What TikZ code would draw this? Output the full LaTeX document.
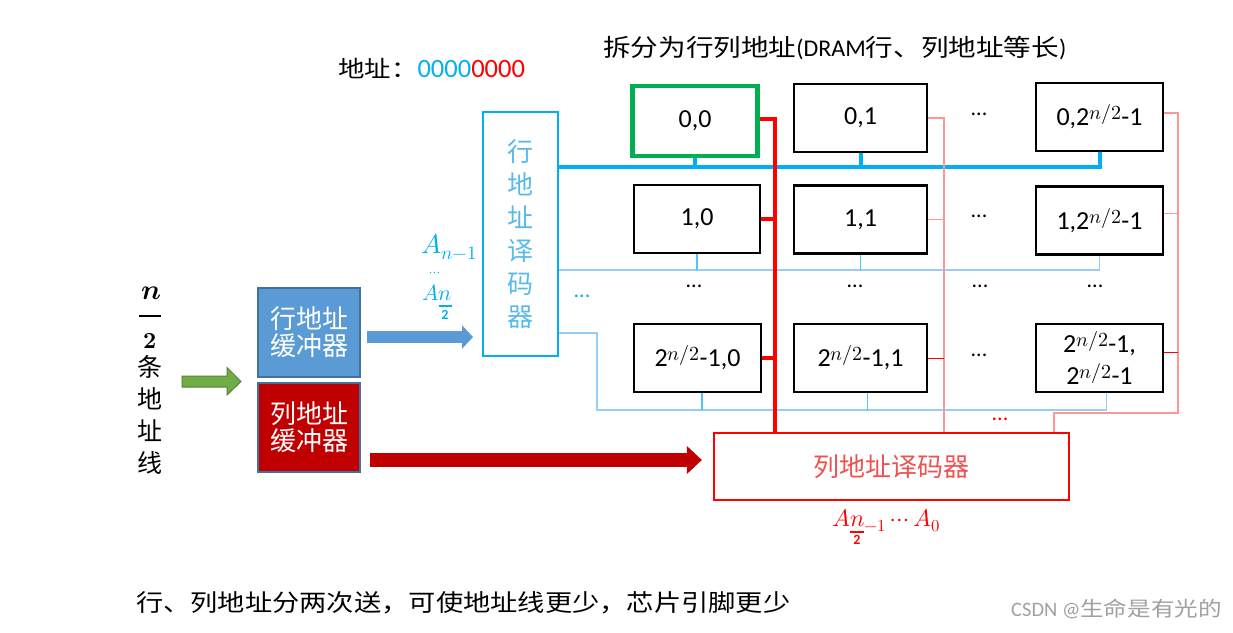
\documentclass[tikz,border=0pt]{standalone}
\usepackage{fontspec}
\usepackage{unicode-math}
\setmainfont{Carlito}
\setmathfont{Latin Modern Math}
\newfontfamily\cjk{Noto Sans CJK SC}
\newfontfamily\cjkw{Noto Sans CJK SC}[FakeStretch=1.15]
\newcommand{\halfexp}{\raisebox{6pt}{\fontsize{20}{20}\selectfont$n/2$}}
\usetikzlibrary{arrows.meta}
\definecolor{sky}{RGB}{0,176,240}
\definecolor{skytext}{RGB}{90,185,235}
\definecolor{lightsky}{RGB}{150,205,242}
\definecolor{pinkline}{RGB}{255,150,150}
\definecolor{pureRed}{RGB}{255,0,0}
\definecolor{darkRed}{RGB}{192,0,0}
\definecolor{cellGreen}{RGB}{0,176,80}
\definecolor{bufBlue}{RGB}{91,155,213}
\definecolor{bufEdge}{RGB}{65,113,156}
\definecolor{arrGreen}{RGB}{112,173,71}
\definecolor{arrGreenEdge}{RGB}{84,130,53}
\definecolor{decText}{RGB}{240,80,80}
\definecolor{wmgray}{RGB}{160,160,160}
\begin{document}
\begin{tikzpicture}[x=1pt,y=-1pt,
  cell/.style={draw=black, line width=2.2pt, minimum width=127pt, minimum height=68pt,
    inner sep=0pt, font=\fontsize{26}{32}\selectfont, align=center},
  buf/.style={draw=bufEdge, line width=1.5pt, minimum width=102pt, minimum height=89pt,
    inner sep=0pt, text=white, font=\cjk\fontsize{26}{27}\selectfont, align=center},
  dotsb/.style={font=\fontsize{22}{22}\selectfont, inner sep=0pt},
  thickblue/.style={sky, line width=4pt, line join=miter},
  thinblue/.style={lightsky, line width=1.5pt},
  stubblue/.style={sky!70, line width=1.2pt},
  thickred/.style={pureRed, line width=3.5pt, line join=miter},
  thinpink/.style={pinkline, line width=1.3pt},
  thinred/.style={pureRed, line width=1pt}]
\useasboundingbox (0,0) rectangle (1233,632);

% memory cells
\node[cell, draw=cellGreen, line width=4.5pt, minimum width=125pt, minimum height=70pt] (c00) at (695,121) {0,0};
\node[cell, minimum width=133pt] (c01) at (860.5,118) {0,1};
\node[cell] (c0L) at (1099.5,117) {0,2\halfexp-1};
\node[cell, minimum width=126pt] (c10) at (697,219) {1,0};
\node[cell, minimum width=133pt] (c11) at (860.5,219.5) {1,1};
\node[cell] (c1L) at (1099.5,220.5) {1,2\halfexp-1};
\node[cell] (cL0) at (697.5,358) {2\halfexp-1,0};
\node[cell, minimum width=133pt] (cL1) at (860.5,358) {2\halfexp-1,1};
\node[cell] (cLL) at (1099.5,358) {2\halfexp-1,\\2\halfexp-1};

% decoders
\node[draw=sky, line width=2pt, minimum width=75pt, minimum height=244pt, inner sep=0pt,
  text=skytext, font=\cjk\fontsize{26}{33}\selectfont, align=center] (rdec) at (520.5,234) {行\\地\\址\\译\\码\\器};
\node[draw=pureRed, line width=2.2pt, minimum width=355pt, minimum height=67pt, inner sep=0pt,
  text=decText, font=\cjk\fontsize{26}{30}\selectfont] (cdec) at (891.5,466.5) {列地址译码器};

% buffers
\node[buf, fill=bufBlue] (rbuf) at (309,332.5) {行地址\\缓冲器};
\node[buf, fill=darkRed] (cbuf) at (309,427.5) {列地址\\缓冲器};

% row word lines
\coordinate (w0) at (0,167);
\coordinate (w1) at (0,270);
\coordinate (wL) at (597,333);
\coordinate (wL2) at (597,410);
\draw[thickblue] (rdec.east |- w0) -- (c0L.south |- w0) -- (c0L.south);
\draw[thickblue] (c00.south) -- (c00.south |- w0);
\draw[thickblue] (c01.south) -- (c01.south |- w0);
\draw[thinblue] (rdec.east |- w1) -- (c1L.south |- w1) -- (c1L.south);
\draw[stubblue] (c10.south) -- (c10.south |- w1);
\draw[stubblue] (c11.south) -- (c11.south |- w1);
\coordinate (sL0) at ([xshift=4.5pt]cL0.south);
\coordinate (sL1) at ([xshift=7pt]cL1.south);
\coordinate (sLL) at ([xshift=7pt]cLL.south);
\draw[thinblue] (rdec.east |- wL) -- (wL) -- (wL2) -- (sLL |- wL2) -- (sLL);
\draw[stubblue] (sL0) -- (sL0 |- wL2);
\draw[stubblue] (sL1) -- (sL1 |- wL2);

% column lines
\coordinate (r1) at (944,0);
\coordinate (r2) at (1178,0);
\coordinate (r2b) at (1054,413);
\coordinate (e0L) at ([yshift=4pt]c0L.east);
\coordinate (e1L) at ([yshift=7pt]c1L.east);
\coordinate (eLL) at ([yshift=6pt]cLL.east);
\draw[thinpink] (c01.east) -- (c01.east -| r1) -- (r1 |- cdec.north);
\draw[thinpink] (c11.east) -- (c11.east -| r1);
\draw[thinred] (cL1.east) -- (cL1.east -| r1);
\draw[thinpink] (e0L) -- (e0L -| r2) -- (r2 |- r2b) -- (r2b) -- (r2b |- cdec.north);
\draw[thinpink] (e1L) -- (e1L -| r2);
\draw[thinred] (eLL) -- (eLL -| r2);
\coordinate (r0) at (775,0);
\coordinate (e00) at ([yshift=2pt]c00.east);
\draw[thickred] (e00) -- (e00 -| r0) -- (r0 |- cdec.north);
\draw[thickred] (c10.east) -- (c10.east -| r0);
\draw[thickred] (cL0.east) -- (cL0.east -| r0);

% ellipses
\node[dotsb] (d01) at (979,114) {...};
\node[dotsb] (d11) at (979,216) {...};
\node[dotsb] (dL1) at (979,355) {...};
\node[dotsb] (dr0) at (694,286) {...};
\node[dotsb] (dr1) at (855,286) {...};
\node[dotsb] (dr2) at (980,286) {...};
\node[dotsb] (dr3) at (1095,286) {...};
\node[dotsb, text=sky] (dblue) at (582,296) {...};
\node[dotsb, text=pureRed] (dred) at (1000,419) {...};

% arrows
\coordinate (ba) at (0,337);
\coordinate (ba1) at ([xshift=6pt]rbuf.east);
\coordinate (ba2) at ([xshift=-9pt]rdec.west);
\draw[bufBlue, line width=12pt, -{Triangle[length=11pt,width=23pt]}] (ba1 |- ba) -- (ba2 |- ba);
\coordinate (ra) at (0,460);
\coordinate (ra1) at ([xshift=9pt]cbuf.east);
\coordinate (ra2) at ([xshift=-11pt]cdec.west);
\draw[darkRed, line width=14pt, -{Triangle[length=15pt,width=27pt]}] (ra1 |- ra) -- (ra2 |- ra);
\draw[fill=arrGreen, draw=arrGreenEdge, line width=1pt] (182,376) -- (227,376) -- (227,367.5) -- (241,381.5) -- (227,395) -- (227,387) -- (182,387) -- cycle;

% left label
\node[font=\fontsize{28}{28}\selectfont, inner sep=0pt] (nfrac) at (151,293) {$\symbfit{n}$};
\draw[line width=2.5pt] (139,316) -- (161,316);
\node[font=\fontsize{23}{23}\selectfont, inner sep=0pt] (twofrac) at (150,341) {$\symbf{2}$};
\node[font=\cjk\fontsize{25}{32}\selectfont, align=center, inner sep=0pt] (lines) at (150,415) {条\\地\\址\\线};

% decoder input labels
\node[anchor=base west, text=sky, font=\fontsize{27}{27}\selectfont, inner sep=0pt] (an1) at (421,253) {$A_{n-1}$};
\node[text=sky, font=\fontsize{14}{14}\selectfont, inner sep=0pt] (adots) at (435,274) {$\cdots$};
\node[anchor=base west, text=sky, font=\fontsize{22}{22}\selectfont, inner sep=0pt] (an2) at (422,300) {$An$};
\draw[sky, line width=2.5pt] (439,306) -- (452,306);
\node[text=sky, font=\fontsize{14}{14}\selectfont\bfseries, inner sep=0pt] (an2b) at (445,315) {2};

\node[anchor=base west, text=pureRed, font=\fontsize{24}{24}\selectfont, inner sep=0pt] (acol) at (832,526) {$An_{-1}\cdots A_0$};
\draw[pureRed, line width=2.5pt] (850,532) -- (864,532);
\node[text=pureRed, font=\fontsize{14}{14}\selectfont\bfseries, inner sep=0pt] (acol2) at (857,540) {2};

% top texts
\node[anchor=west, font=\fontsize{26.5}{26.5}\selectfont, inner sep=0pt] (addr) at (338,68) {{\cjkw\fontsize{23}{23}\selectfont 地址：}\textcolor{sky}{0000}\textcolor{pureRed}{0000}};
\node[anchor=west, font=\fontsize{24}{24}\selectfont, inner sep=0pt] (title) at (603,48) {{\cjkw 拆分为行列地址}(DRAM{\cjkw 行、列地址等长})};

% bottom texts
\node[anchor=west, font=\cjkw\fontsize{23.7}{24}\selectfont, inner sep=0pt] (note) at (136,603) {行、列地址分两次送，可使地址线更少，芯片引脚更少};
\node[anchor=east, text=wmgray, font=\fontsize{20.5}{20.5}\selectfont, inner sep=0pt] (wm) at (1222,609) {CSDN @{\cjkw 生命是有光的}};
\end{tikzpicture}
\end{document}
